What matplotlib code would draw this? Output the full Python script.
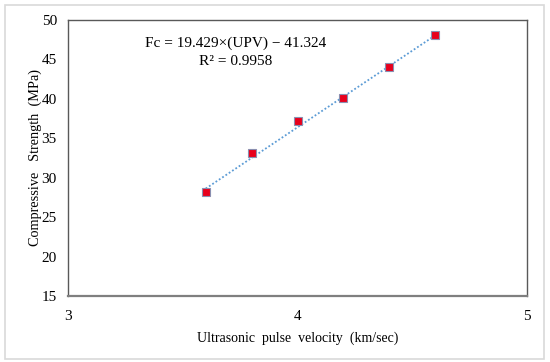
import matplotlib
matplotlib.use('Agg')
import matplotlib.pyplot as plt
from matplotlib.patches import Rectangle
import numpy as np

upv = [3.6, 3.8, 4.0, 4.2, 4.4, 4.6]  # km/sec
fc = [28.2, 33.1, 37.2, 40.1, 44.1, 48.1]  # MPa
slope, intercept = 19.429, -41.324

plt.rcParams['font.family'] = ['Liberation Serif', 'DejaVu Serif']

fig = plt.figure(figsize=(5.5, 3.62), dpi=100)
ax = fig.add_axes([68 / 550, 1 - 296 / 362, 459 / 550, 276 / 362])

# рамка вокруг всего рисунка
fig.patches.append(Rectangle((5 / 550, 1 - 359 / 362), 539 / 550, 354 / 362,
                             transform=fig.transFigure, fill=False,
                             edgecolor='#d9d9d9', linewidth=1.2))

x_fit = np.array([upv[0], upv[-1]])
ax.plot(x_fit, slope * x_fit + intercept, linestyle=(0, (1, 1.2)),
        color='#5b9bd5', linewidth=1.3, zorder=2)
ax.plot(upv, fc, linestyle='none', marker='s', markersize=6.0,
        markerfacecolor='#e8001c', markeredgecolor='#8a8fb0',
        markeredgewidth=0.8, zorder=3)

ax.set_xlim(3, 5)
ax.set_ylim(15, 50)
ax.set_xticks([3, 4, 5])
ax.set_yticks([15, 20, 25, 30, 35, 40, 45, 50])
ax.tick_params(length=0, labelsize=11, pad=8)
ax.tick_params(axis='x', pad=10)
for s in ax.spines.values():
    s.set_color('#595959')
    s.set_linewidth(1.0)
ax.spines['bottom'].set_color('#7f7f7f')
ax.spines['bottom'].set_linewidth(1.6)

ax.set_xlabel('Ultrasonic  pulse  velocity  (km/sec)', fontsize=10, labelpad=6)
ax.set_ylabel('Compressive   Strength  (MPa)', fontsize=10.3, labelpad=0)

ax.text(0.366, 0.884, 'Fc = 19.429×(UPV) − 41.324\nR² = 0.9958',
        transform=ax.transAxes, ha='center', va='center', fontsize=11,
        linespacing=1.45)

fig.savefig('out.png', dpi=100)
